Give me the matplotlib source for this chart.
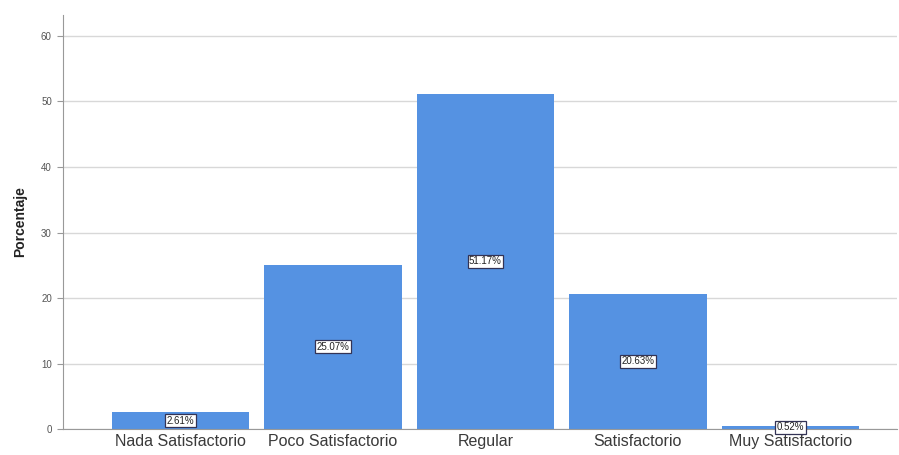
import matplotlib
matplotlib.use("Agg")
import matplotlib.pyplot as plt

categories = ["Nada Satisfactorio", "Poco Satisfactorio", "Regular", "Satisfactorio", "Muy Satisfactorio"]
values = [2.61, 25.07, 51.17, 20.63, 0.52]
yticks = [0, 10, 20, 30, 40, 50, 60]

plt.rcParams['font.family'] = ['Liberation Sans', 'DejaVu Sans']

fig = plt.figure(figsize=(8.99, 4.55), dpi=100)
ax = fig.add_axes([0.070, 0.057, 0.928, 0.910])

x = list(range(len(categories)))
ax.bar(x, values, width=0.9, color='#5592E2', zorder=2)

for xi, v in zip(x, values):
    ax.text(xi, v / 2, f"{v:.2f}%", ha='center', va='center', fontsize=7, color='#222222',
            bbox=dict(boxstyle='square,pad=0.15', facecolor='white', edgecolor='#333355', linewidth=0.9),
            zorder=3)

ax.set_xlim(-0.77, 4.7)
ax.set_ylim(0, 63.2)
ax.set_yticks(yticks)
ax.set_yticklabels([str(t) for t in yticks], fontsize=7, color='#555555')
ax.set_xticks(x)
ax.set_xticklabels(categories, fontsize=11.5, color='#3a3a3a')
ax.tick_params(axis='x', length=0, pad=3.5)
ax.tick_params(axis='y', length=4, color='#999999', pad=4)
ax.yaxis.grid(True, color='#d8d8d8', linewidth=1, zorder=0)
ax.set_axisbelow(True)
for s in ['top', 'right']:
    ax.spines[s].set_visible(False)
ax.spines['left'].set_color('#999999')
ax.spines['bottom'].set_color('#999999')
ax.set_ylabel("Porcentaje", fontsize=10, fontweight='bold', color='#222222', labelpad=10)

fig.savefig("out.png", dpi=100)
